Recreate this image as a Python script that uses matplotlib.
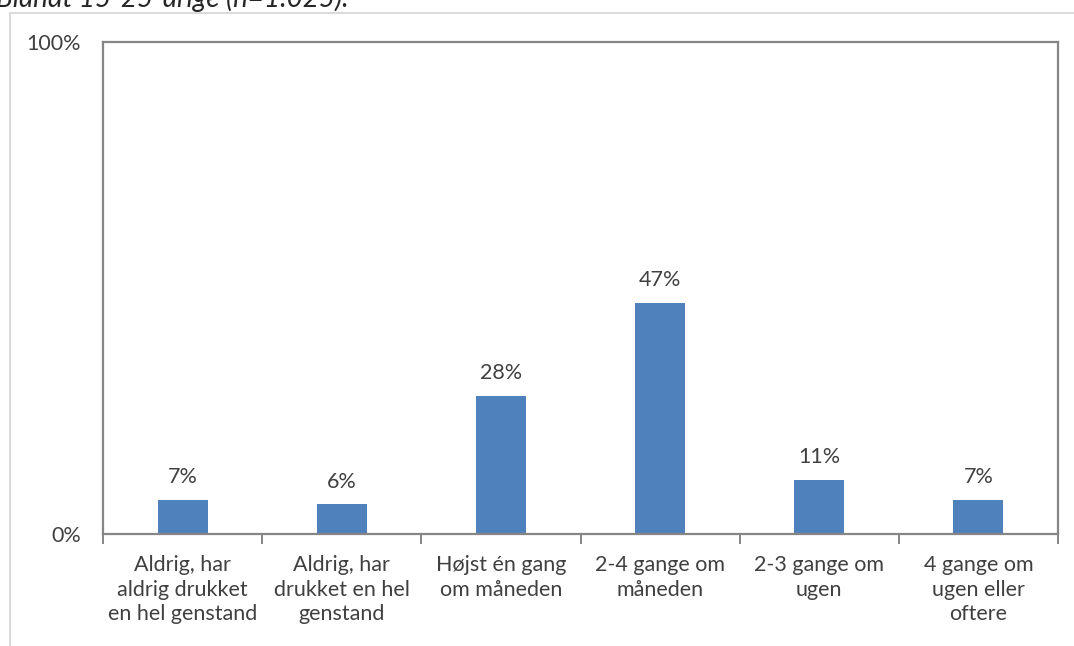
import matplotlib
matplotlib.use("Agg")
import matplotlib.pyplot as plt
from matplotlib.lines import Line2D
from matplotlib.ticker import FixedLocator

plt.rcParams['font.family'] = ['Lato', 'DejaVu Sans']

categories = [
    "Aldrig, har\naldrig drukket\nen hel genstand",
    "Aldrig, har\ndrukket en hel\ngenstand",
    "Højst én gang\nom måneden",
    "2-4 gange om\nmåneden",
    "2-3 gange om\nugen",
    "4 gange om\nugen eller\noftere",
]
values = [7, 6, 28, 47, 11, 7]
y_ticks = [0, 100]
y_tick_labels = ["0%", "100%"]
title = "Blandt 15-25-årige (n=1.025)."

W, H = 1074, 646
fig = plt.figure(figsize=(W / 100, H / 100), dpi=100)

ax = fig.add_axes([103 / W, 1 - 534 / H, (1058 - 103) / W, (534 - 42) / H])

bar_color = "#4f81bd"
text_color = "#404040"
frame_color = "#868686"
fs = 15.5

x = list(range(len(values)))
ax.bar(x, values, width=0.315, color=bar_color, zorder=2)
for xi, v in zip(x, values):
    ax.text(xi, v + 2.6, f"{v}%", ha="center", va="bottom",
            fontsize=fs, color=text_color)

ax.set_xlim(-0.5, len(values) - 0.5)
ax.set_ylim(0, 100)

for s in ax.spines.values():
    s.set_color(frame_color)
    s.set_linewidth(1.6)

ax.set_yticks(y_ticks)
ax.set_yticklabels(y_tick_labels, fontsize=fs, color=text_color)
ax.tick_params(axis="y", length=0, pad=16)

ax.set_xticks(x)
ax.set_xticklabels(categories, fontsize=fs, color=text_color, linespacing=1.3)
ax.tick_params(axis="x", which="major", length=0, pad=15)
ax.xaxis.set_minor_locator(FixedLocator([i - 0.5 for i in range(len(values) + 1)]))
ax.tick_params(axis="x", which="minor", length=7, width=1.4, color=frame_color)

# outer chart frame
fig.add_artist(Line2D([10 / W, 1.0], [1 - 13 / H, 1 - 13 / H],
                      color="#d9d9d9", linewidth=1.4))
fig.add_artist(Line2D([10 / W, 10 / W], [1 - 13 / H, 0.0],
                      color="#d9d9d9", linewidth=1.4))

fig.text(-4 / W, 1 - 7 / H, title, fontsize=20, style="italic",
         color="#262626", ha="left", va="baseline")

fig.savefig("out.png", dpi=100)
